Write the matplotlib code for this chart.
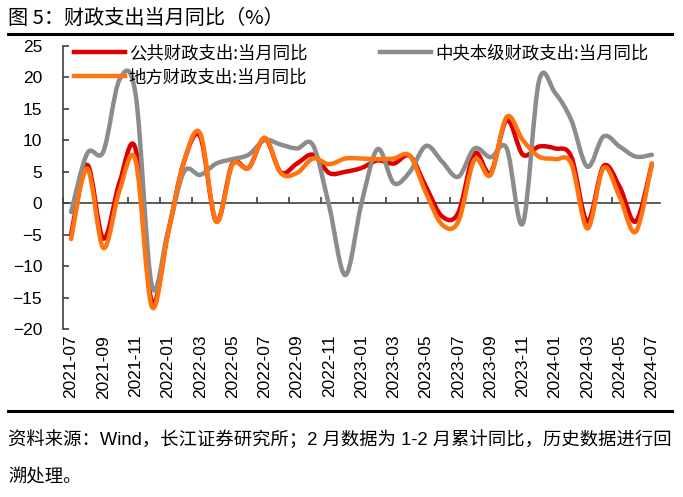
import numpy as np
import matplotlib
matplotlib.use("Agg")
import matplotlib.pyplot as plt
from matplotlib.path import Path
from matplotlib.patches import PathPatch
from matplotlib.lines import Line2D

plt.rcParams['font.family'] = ['Liberation Sans', 'Noto Sans CJK SC', 'DejaVu Sans']

# 数据：2021-07 至 2024-07 月度
months = ['2021-07', '2021-08', '2021-09', '2021-10', '2021-11', '2021-12',
          '2022-01', '2022-02', '2022-03', '2022-04', '2022-05', '2022-06',
          '2022-07', '2022-08', '2022-09', '2022-10', '2022-11', '2022-12',
          '2023-01', '2023-02', '2023-03', '2023-04', '2023-05', '2023-06',
          '2023-07', '2023-08', '2023-09', '2023-10', '2023-11', '2023-12',
          '2024-01', '2024-02', '2024-03', '2024-04', '2024-05', '2024-06',
          '2024-07']
public_exp = [-5.0, 6.1, -5.6, 3.3, 8.6, -15.6, -4.8, 6.6, 10.6, -2.9, 6.3, 5.6,
              10.3, 4.9, 6.3, 7.7, 4.8, 5.0, 5.6, 6.8, 6.3, 7.5, 2.6, -2.1,
              -1.5, 7.9, 4.8, 13.2, 7.7, 9.0, 8.7, 7.4, -2.9, 5.9, 2.6, -2.9,
              6.3]
central_exp = [-1.4, 7.9, 8.2, 19.6, 17.3, -13.0, -4.5, 5.0, 4.5, 6.3, 7.0, 7.7,
               10.0, 9.3, 8.7, 9.2, -0.5, -11.4, 0.0, 8.6, 3.2, 5.0, 9.1, 6.6,
               4.2, 8.7, 7.3, 8.7, -3.2, 19.4, 17.5, 13.2, 5.8, 10.6, 9.0, 7.4,
               7.7]
local_exp = [-5.7, 5.5, -7.1, 2.0, 6.8, -16.4, -4.9, 6.6, 11.1, -2.9, 6.1, 5.6,
             10.4, 4.8, 4.8, 7.1, 6.2, 7.1, 7.1, 7.0, 7.1, 7.5, 1.6, -3.4,
             -2.9, 6.9, 4.5, 13.7, 10.0, 7.4, 7.0, 6.3, -4.0, 5.6, 1.0, -4.5,
             6.3]

labels = ['公共财政支出:当月同比', '中央本级财政支出:当月同比', '地方财政支出:当月同比']
colors = ['#DE0000', '#8C8C8C', '#FF7410']


def smooth_path(xs, ys):
    # Excel 风格平滑线（Catmull-Rom 转三次贝塞尔）
    pts = np.column_stack([xs, ys]).astype(float)
    n = len(pts)
    verts = [pts[0]]
    codes = [Path.MOVETO]
    for i in range(n - 1):
        p0 = pts[i - 1] if i > 0 else pts[i]
        p1 = pts[i]
        p2 = pts[i + 1]
        p3 = pts[i + 2] if i + 2 < n else pts[i + 1]
        c1 = p1 + (p2 - p0) / 6.0
        c2 = p2 - (p3 - p1) / 6.0
        verts += [c1, c2, p2]
        codes += [Path.CURVE4] * 3
    return Path(verts, codes)


fig = plt.figure(figsize=(6.83, 4.97), dpi=100)
ax = fig.add_axes([63 / 683, 1 - 329.3 / 497, 597 / 683, (329.3 - 45.7) / 497])

x = np.arange(len(months))
for ys, c in zip([public_exp, central_exp, local_exp], colors):
    ax.add_patch(PathPatch(smooth_path(x, ys), facecolor='none', edgecolor=c,
                           lw=3.2, capstyle='round', joinstyle='round', zorder=3))

ax.set_xlim(-0.5, len(months) - 0.5)
ax.set_ylim(-20, 25)
ax.set_yticks(np.arange(-20, 26, 5))

for s in ['top', 'right', 'bottom']:
    ax.spines[s].set_visible(False)
ax.spines['left'].set_color('#404040')
ax.spines['left'].set_linewidth(1.2)
ax.tick_params(axis='y', direction='in', length=4, width=1.2, color='#404040',
               labelsize=12.5, pad=15)

ax.set_xticks(x[::2])
ax.set_xticklabels(months[::2], rotation=90, fontsize=12.5)
ax.tick_params(axis='x', length=0, pad=4)

# 零轴及刻度
sec = ax.secondary_xaxis(0, transform=ax.transData)
sec.spines['bottom'].set_color('#404040')
sec.spines['bottom'].set_linewidth(1.2)
sec.set_xticks(np.arange(-0.5, len(months), 2))
sec.tick_params(axis='x', direction='in', length=4, width=1.2, color='#404040',
                labelbottom=False)

handles = [Line2D([], [], color=c, lw=3.2) for c in colors]
order = [0, 2, 1]
fig.legend([handles[i] for i in order], [labels[i] for i in order], ncol=2,
           loc='upper left', bbox_to_anchor=(62 / 683, 1 - 32 / 497),
           frameon=False, handlelength=2.9, handletextpad=0.25,
           columnspacing=4.2, labelspacing=0.35, borderpad=0.2,
           prop={'family': ['Noto Sans CJK SC'], 'size': 12.5})

fig.text(8 / 683, 1 - 18 / 497, '图 5：财政支出当月同比（%）', fontsize=14.5,
         va='center', ha='left', family=['Noto Sans CJK SC'])
fig.add_artist(Line2D([8 / 683, 672 / 683], [1 - 34 / 497, 1 - 34 / 497],
                      color='black', lw=2.2))
fig.add_artist(Line2D([8 / 683, 672 / 683], [1 - 411 / 497, 1 - 411 / 497],
                      color='black', lw=2.2))
fig.text(8 / 683, 1 - 440 / 497,
         '资料来源：Wind，长江证券研究所；2 月数据为 1-2 月累计同比，历史数据进行回',
         fontsize=13.2, va='center', ha='left')
fig.text(8 / 683, 1 - 478 / 497, '溯处理。', fontsize=13.2, va='center', ha='left')

fig.savefig('out.png', dpi=100)
